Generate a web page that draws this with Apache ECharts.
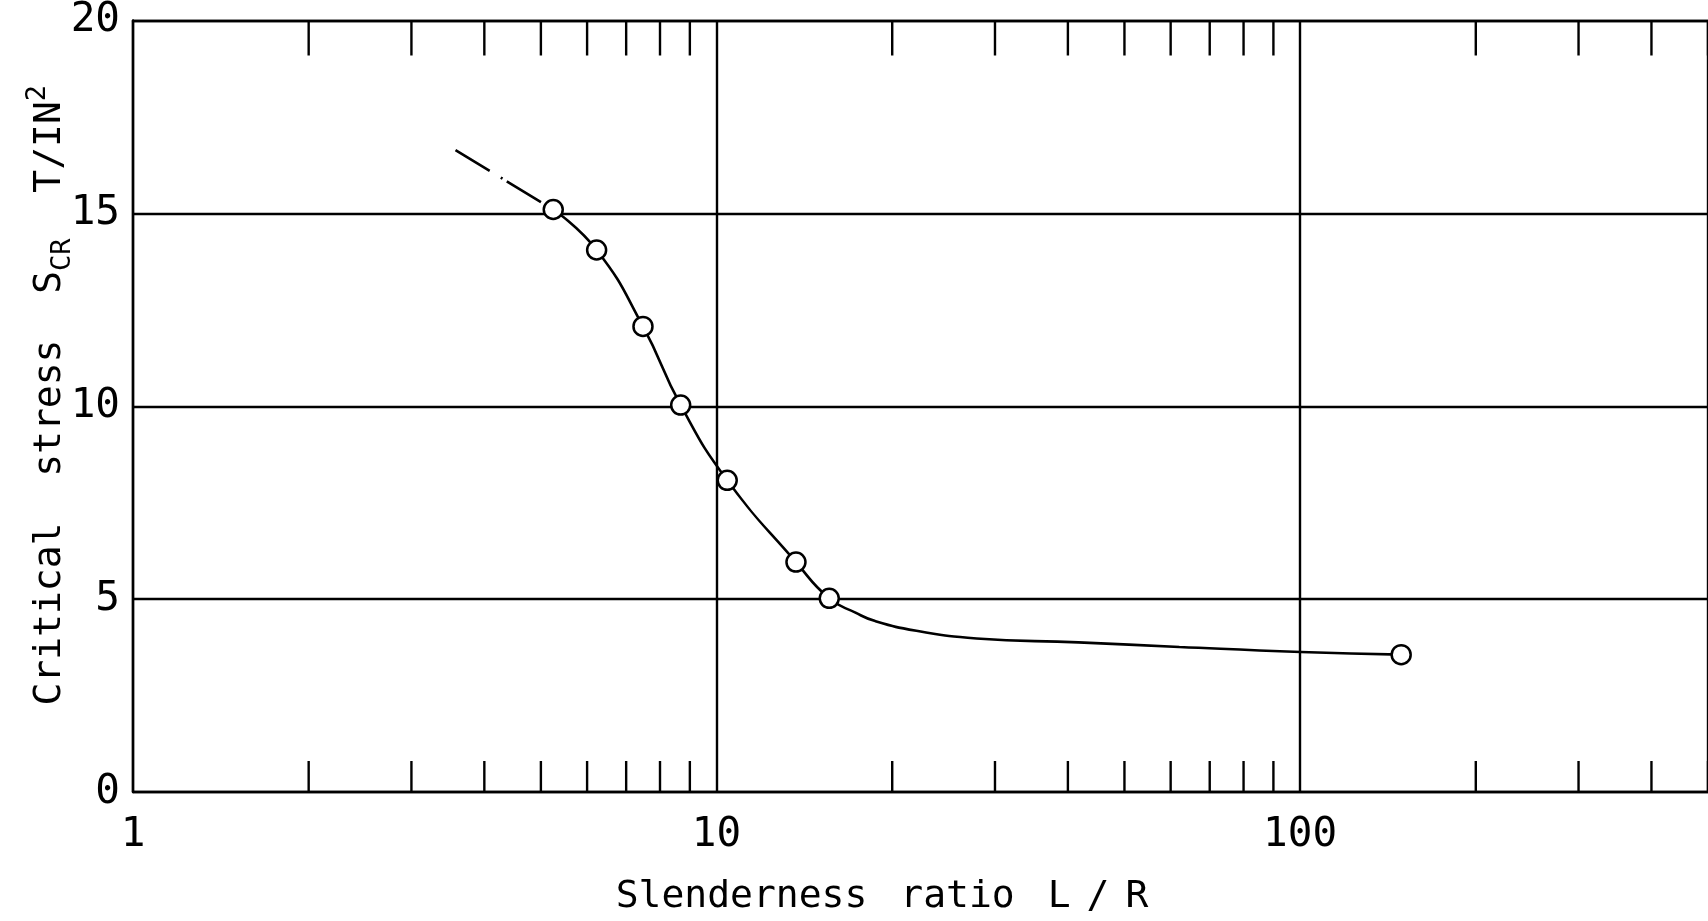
<!DOCTYPE html>
<html>
<head>
<meta charset="utf-8">
<script src="https://cdn.jsdelivr.net/npm/echarts@6/dist/echarts.min.js"></script>
<style>
html,body{margin:0;padding:0;background:#fff;}
#chart{width:1708px;height:921px;}
</style>
</head>
<body>
<div id="chart"></div>
<script>
// Measured points (open circles)
const slenderness    = [5.25, 6.23, 7.48, 8.68, 10.43, 13.68, 15.6, 149];
const criticalStress = [15.1, 14.05, 12.07, 10.03, 8.08, 5.96, 5.02, 3.56];
// Fitted curve
const curveX = [5.25, 6.23, 7.48, 8.68, 10.43, 13.68, 15.6, 17.3, 18.7, 22.0, 27.9, 41.7, 62.1, 100.3, 149];
const curveY = [15.1, 14.05, 12.07, 10.03, 8.08, 5.96, 5.02, 4.65, 4.43, 4.18, 3.98, 3.88, 3.76, 3.63, 3.56];
// Dash-dot extrapolation to the left
const extrapX = [3.57, 5.25];
const extrapY = [16.64, 15.1];
// Intermediate log ticks
const minorTicks = [2, 3, 4, 5, 6, 7, 8, 9, 20, 30, 40, 50, 60, 70, 80, 90, 200, 300, 400, 500];
const yTickValues = [0, 5, 10, 15, 20];

const FONT = 'DejaVu Sans Mono';
const INK = '#000';
const LW = 2.4;

const pts = slenderness.map((x, i) => [x, criticalStress[i]]);
const curve = curveX.map((x, i) => [x, curveY[i]]);
const extrap = extrapX.map((x, i) => [x, extrapY[i]]);

const chart = echarts.init(document.getElementById('chart'), null, {renderer: 'canvas'});
chart.setOption({
  backgroundColor: '#fff',
  animation: false,
  grid: {left: 133, top: 19, right: -12, bottom: 128, containLabel: false},
  xAxis: [{
    type: 'log', logBase: 10, min: 1, max: 500, position: 'bottom',
    name: '{a|Slenderness}{g|}{a|ratio}{g|}{a|L}{h|}{a|/}{h|}{a|R}',
    nameLocation: 'middle', nameGap: 86, nameMoveOverlap: false,
    nameTextStyle: {
      fontFamily: FONT, fontSize: 38, color: INK, padding: [0, 77, 0, 0],
      rich: {
        a: {fontFamily: FONT, fontSize: 38, color: INK},
        g: {width: 33},
        h: {width: 16}
      }
    },
    axisLine: {show: true, lineStyle: {color: INK, width: LW}},
    axisTick: {show: false},
    splitLine: {show: true, lineStyle: {color: INK, width: LW}},
    axisLabel: {
      fontFamily: FONT, fontSize: 41, color: INK, margin: 23, showMaxLabel: false,
      formatter: v => { const l = Math.log10(v); return Math.abs(l - Math.round(l)) < 1e-6 ? String(Math.round(v)) : ''; }
    }
  }, {
    type: 'log', logBase: 10, min: 1, max: 500, position: 'top',
    axisLine: {show: true, lineStyle: {color: INK, width: LW}},
    axisTick: {show: false}, axisLabel: {show: false}, splitLine: {show: false}
  }],
  yAxis: {
    type: 'value', min: 0, max: 20, interval: 5,
    name: '{m|Critical  stress  S}{sub|CR}{m|  T/IN}{sup|2}',
    nameLocation: 'middle', nameRotate: 90, nameGap: 57, nameMoveOverlap: false,
    nameTextStyle: {
      fontFamily: FONT, fontSize: 38, color: INK, padding: [0, 0, 0, 22],
      rich: {
        m: {fontFamily: FONT, fontSize: 38, color: INK, lineHeight: 52},
        sub: {fontFamily: FONT, fontSize: 27, color: INK, verticalAlign: 'bottom', lineHeight: 52},
        sup: {fontFamily: FONT, fontSize: 27, color: INK, verticalAlign: 'top', lineHeight: 52}
      }
    },
    axisLine: {show: true, lineStyle: {color: INK, width: LW}},
    axisTick: {show: false},
    splitLine: {show: true, lineStyle: {color: INK, width: LW}},
    axisLabel: {fontFamily: FONT, fontSize: 41, color: INK, margin: 13}
  },
  series: [
    {
      type: 'custom', xAxisIndex: 0, yAxisIndex: 0, silent: true,
      data: minorTicks.map(v => [v, 0]),
      encode: {x: 0, y: 1},
      renderItem: (params, api) => {
        const v = api.value(0);
        const b = api.coord([v, yTickValues[0]]);
        const t = api.coord([v, yTickValues[yTickValues.length - 1]]);
        const st = {stroke: INK, lineWidth: LW};
        return {type: 'group', children: [
          {type: 'line', shape: {x1: b[0], y1: b[1], x2: b[0], y2: b[1] - 31}, style: st},
          {type: 'line', shape: {x1: t[0], y1: t[1], x2: t[0], y2: t[1] + 35}, style: st}
        ]};
      },
      z: 3
    },
    {
      type: 'line', data: extrap, showSymbol: false, symbol: 'none',
      lineStyle: {color: INK, width: 2.6, type: [40, 13, 2, 5]}, z: 4
    },
    {
      type: 'line', data: curve, smooth: 0.5, showSymbol: false, symbol: 'none',
      lineStyle: {color: INK, width: 2.6}, z: 4
    },
    {
      type: 'scatter', data: pts, symbol: 'circle', symbolSize: 19,
      itemStyle: {color: '#fff', borderColor: INK, borderWidth: 2.5, opacity: 1}, z: 5
    }
  ]
});
</script>
</body>
</html>
